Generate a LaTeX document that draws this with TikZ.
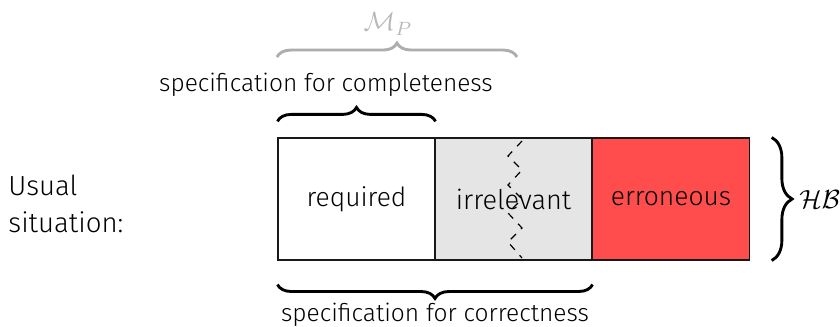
\documentclass[tikz,border=0pt]{standalone}
\usepackage{fontspec}
\setmainfont{Fira Sans Light}
\usetikzlibrary{decorations.pathreplacing}

\begin{document}
\begin{tikzpicture}[x=0.4167pt, y=-0.4167pt,
  cell/.style={draw=black!90, line width=0.5pt, inner sep=0pt, minimum width=65.4pt, minimum height=50.8pt,
    font=\fontsize{11}{13}\selectfont},
  brace/.style={decorate, decoration={brace, amplitude=5.8pt}, line width=1.2pt},
  label/.style={font=\fontsize{10.2}{12}\selectfont}]
% Canvas of the picture
\useasboundingbox (0,0) rectangle (840,327);

% The three parts of the base
\node[cell, fill=white] (req) at (356.5,199) {required};
\node[cell, fill=black!10] (irr) at (513.5,199) {};
\node[cell, fill=red!70] (err) at (671,199) {erroneous};

% Cut through the irrelevant part
\draw[dashed, line width=0.5pt] (522,141) -- (508,156) -- (522,170) -- (508,185) -- (522,199)
  -- (508,213) -- (522,228) -- (508,242) -- (522,258);
\node[font=\fontsize{11.3}{13}\selectfont] (irrtext) at (513.5,199) {irrelevant};

% Left caption
\node[anchor=west, align=left, inner sep=0pt, font=\fontsize{11.5}{15.4}\selectfont] (usual) at (8,204) {Usual\\situation:};

% Braces above
\coordinate (mpL) at (277,57);
\coordinate (mpR) at (517,57);
\draw[brace, black!32] (mpL) -- (mpR);
\node[text=black!28, font=\fontsize{11}{13}\selectfont] (mp) at (388,24) {$\mathcal{M}_P$};

\draw[brace] ([yshift=6.7pt]req.north west) -- ([yshift=6.7pt]req.north east);
\node[label] (compl) at (326,85) {specification for completeness};

% Brace below
\draw[brace, decoration={mirror}] ([yshift=-10pt]req.south west) -- ([yshift=-10pt]irr.south east);
\node[label] (corr) at (435,315) {specification for correctness};

% Brace on the right
\draw[brace, decoration={amplitude=8.5pt}] ([xshift=9pt]err.north east) -- ([xshift=9pt]err.south east);
\node[anchor=west, inner sep=0pt, font=\fontsize{10.5}{13}\selectfont] (hb) at (799,200) {$\mathcal{HB}$};
\end{tikzpicture}
\end{document}
